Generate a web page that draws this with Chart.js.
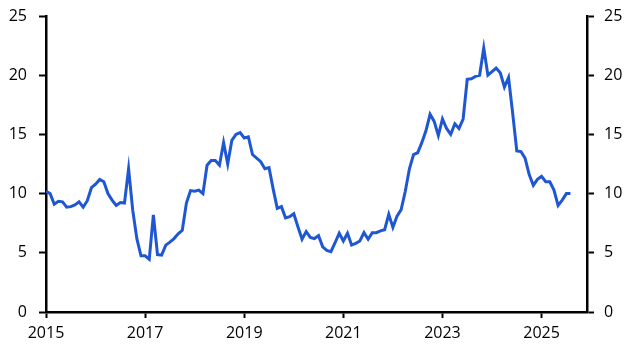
<!DOCTYPE html>
<html>
<head>
<meta charset="utf-8">
<script src="https://cdn.jsdelivr.net/npm/chart.js@4/dist/chart.umd.min.js"></script>
<style>
  html, body { margin: 0; padding: 0; background: #fff; }
  #c { display: block; }
</style>
</head>
<body>
<canvas id="c" width="634" height="358"></canvas>
<script>
// Monthly series, Jan 2015 onwards
const startYear = 2015;
const seriesValues = [
  10.2, 10.0, 9.1, 9.35, 9.3, 8.85, 8.9, 9.05, 9.3, 8.85, 9.4, 10.5,
  10.8, 11.2, 11.0, 10.0, 9.45, 9.0, 9.25, 9.2, 12.1, 8.6, 6.2, 4.75,
  4.75, 4.45, 8.2, 4.85, 4.8, 5.65, 5.9, 6.2, 6.6, 6.9, 9.2, 10.25,
  10.2, 10.3, 10.0, 12.4, 12.8, 12.8, 12.4, 14.3, 12.5, 14.5, 15.0, 15.15,
  14.7, 14.8, 13.3, 13.0, 12.7, 12.1, 12.2, 10.4, 8.75, 8.9, 7.95, 8.05,
  8.3, 7.2, 6.15, 6.8, 6.3, 6.2, 6.45, 5.5, 5.2, 5.1, 5.85, 6.65,
  6.0, 6.65, 5.65, 5.8, 6.0, 6.7, 6.15, 6.7, 6.7, 6.85, 6.95, 8.25,
  7.15, 8.1, 8.65, 10.2, 12.1, 13.3, 13.45, 14.3, 15.3, 16.7, 16.1, 14.9,
  16.3, 15.5, 15.0, 15.9, 15.5, 16.3, 19.65, 19.7, 19.9, 20.0, 22.3, 20.0,
  20.3, 20.6, 20.2, 19.0, 19.8, 16.8, 13.6, 13.55, 13.0, 11.6, 10.7, 11.2,
  11.45, 11.0, 11.0, 10.3, 9.0, 9.45, 10.0, 10.0
];
const categories = seriesValues.map((_, i) =>
  (startYear + Math.floor(i / 12)) + '-' + String(i % 12 + 1).padStart(2, '0'));
const xTickLabels = ['2015', '2017', '2019', '2021', '2023', '2025'];
const yTickLabels = ['0', '5', '10', '15', '20', '25'];
const xEndYear = 2025, xEndMonth = 12;

const monthIndex = (y, m) => (y - startYear) * 12 + (m - 1);
const xTickValues = xTickLabels.map(l => monthIndex(+l, 1));
const yTickValues = yTickLabels.map(Number);

const font = { family: '"Open Sans", "Noto Sans", sans-serif', size: 16 };
const black = '#000';

function yAxis(position, width) {
  return {
    type: 'linear',
    position: position,
    min: 0, max: 25,
    afterBuildTicks: s => { s.ticks = yTickValues.map(v => ({ value: v })); },
    afterFit: s => { s.width = width; s.paddingTop = 0; s.paddingBottom = 0; },
    ticks: { color: black, font: font, padding: position === 'left' ? 12 : 10,
             callback: (v) => String(v) },
    grid: { display: true, drawOnChartArea: false, drawTicks: true,
            tickLength: 7, tickWidth: 2, tickColor: black },
    border: { display: true, color: black, width: 2.5 }
  };
}

new Chart(document.getElementById('c'), {
  type: 'line',
  data: {
    labels: categories,
    datasets: [{
      data: seriesValues.map((v, i) => ({ x: i, y: v })),
      borderColor: '#1f57d3',
      borderWidth: 3,
      pointRadius: 0,
      tension: 0,
      fill: false
    }]
  },
  options: {
    responsive: false,
    animation: false,
    devicePixelRatio: 1,
    layout: { padding: { top: 16, left: 0, right: 0, bottom: 0 } },
    plugins: { legend: { display: false }, tooltip: { enabled: false } },
    scales: {
      x: {
        type: 'linear',
        min: 0,
        max: monthIndex(xEndYear, xEndMonth),
        afterBuildTicks: s => { s.ticks = xTickValues.map(v => ({ value: v })); },
        afterFit: s => { s.height = 46; },
        ticks: { color: black, font: font, padding: 6, maxRotation: 0,
                 callback: (v) => { const k = xTickValues.indexOf(v); return k >= 0 ? xTickLabels[k] : ''; } },
        grid: { display: true, drawOnChartArea: false, drawTicks: true,
                tickLength: 6, tickWidth: 2, tickColor: black },
        border: { display: true, color: black, width: 2.5 }
      },
      y: yAxis('left', 46),
      y2: yAxis('right', 47)
    }
  }
});
</script>
</body>
</html>
